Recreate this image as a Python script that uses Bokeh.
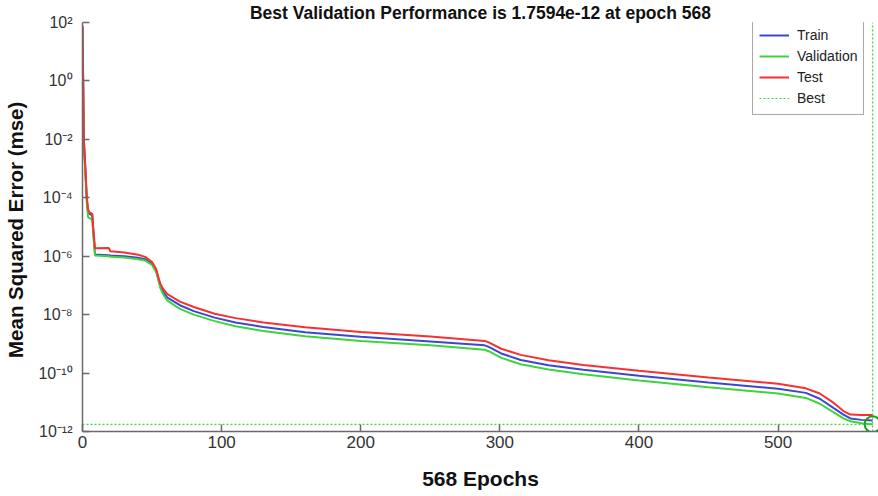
from bokeh.plotting import figure
from bokeh.models import FixedTicker, Legend, LegendItem, CustomJSTickFormatter, Range1d
from bokeh.embed import file_html
from bokeh.resources import INLINE

# ---------------- data ----------------
epochs = [0, 1, 2, 3, 4, 5, 7, 8, 9, 19, 20, 30, 40, 45, 50, 53, 55, 56, 58, 61,
          70, 80, 95, 110, 130, 160, 200, 250, 289, 292, 301, 315, 335, 360, 400,
          450, 500, 520, 530, 540, 547, 552, 560, 568]

train_mse = [7.1e1, 7.9e-3, 1.0e-3, 1.0e-4, 3.16e-5, 2.8e-5, 2.5e-5, 5.0e-6, 1.15e-6,
             1.07e-6, 1.05e-6, 1.0e-6, 8.9e-7, 7.9e-7, 5.4e-7, 3.16e-7, 1.41e-7, 9.5e-8,
             6.0e-8, 3.8e-8, 2.1e-8, 1.32e-8, 7.9e-9, 5.4e-9, 3.8e-9, 2.5e-9, 1.74e-9,
             1.2e-9, 8.9e-10, 7.9e-10, 4.7e-10, 2.8e-10, 1.86e-10, 1.29e-10, 8.1e-11,
             4.8e-11, 2.9e-11, 2.1e-11, 1.32e-11, 6.3e-12, 3.8e-12, 2.8e-12, 2.5e-12, 2.4e-12]

validation_mse = [6.3e1, 6.3e-3, 7.9e-4, 7.9e-5, 2.2e-5, 2.0e-5, 1.78e-5, 4.0e-6, 1.05e-6,
                  1.0e-6, 9.5e-7, 9.1e-7, 7.9e-7, 7.1e-7, 5.0e-7, 2.8e-7, 1.26e-7, 7.9e-8,
                  5.0e-8, 3.0e-8, 1.58e-8, 1.0e-8, 6.0e-9, 4.0e-9, 2.75e-9, 1.82e-9, 1.26e-9,
                  8.9e-10, 6.3e-10, 5.6e-10, 3.3e-10, 2.0e-10, 1.32e-10, 9.1e-11, 5.6e-11,
                  3.3e-11, 2.0e-11, 1.41e-11, 8.9e-12, 4.5e-12, 2.8e-12, 2.24e-12, 1.9e-12, 1.7594e-12]

test_mse = [7.9e1, 1.0e-2, 1.26e-3, 1.26e-4, 3.98e-5, 3.16e-5, 2.82e-5, 6.3e-6, 1.86e-6,
            1.9e-6, 1.48e-6, 1.35e-6, 1.12e-6, 9.5e-7, 6.3e-7, 3.55e-7, 1.58e-7, 1.12e-7,
            7.6e-8, 5.0e-8, 2.8e-8, 1.82e-8, 1.07e-8, 7.6e-9, 5.4e-9, 3.7e-9, 2.57e-9,
            1.78e-9, 1.26e-9, 1.12e-9, 6.8e-10, 4.2e-10, 2.75e-10, 1.9e-10, 1.2e-10,
            7.1e-11, 4.3e-11, 3.0e-11, 2.0e-11, 9.5e-12, 5.0e-12, 3.8e-12, 3.7e-12, 3.7e-12]

best_epoch = 568
best_perf = 1.7594e-12

y_min, y_max = 1e-12, 1e2
x_tick_values = [0, 100, 200, 300, 400, 500]
y_tick_values = [1e2, 1e0, 1e-2, 1e-4, 1e-6, 1e-8, 1e-10, 1e-12]
y_tick_labels = ["10\u00b2", "10\u2070", "10\u207b\u00b2", "10\u207b\u2074", "10\u207b\u2076",
                 "10\u207b\u2078", "10\u207b\u00b9\u2070", "10\u207b\u00b9\u00b2"]

title_text = "Best Validation Performance is 1.7594e-12 at epoch 568"
x_label_text = "568 Epochs"
y_label_text = "Mean Squared Error  (mse)"
series_labels = ["Train", "Validation", "Test", "Best"]

# ---------------- styling ----------------
FONT = "Liberation Sans"
BLUE = "#3a48d0"
GREEN = "#3ed43e"
RED = "#f83030"
AXIS = "#6a6a6a"

p = figure(width=878, height=496, y_axis_type="log",
           x_range=Range1d(0, 572.2), y_range=Range1d(y_min, y_max),
           output_backend="svg", toolbar_location=None, title=title_text,
           min_border_left=82, min_border_right=0, min_border_top=19, min_border_bottom=65)
p.outline_line_color = None
p.xgrid.visible = False
p.ygrid.visible = False

p.title.align = "center"
p.title.text_font = FONT
p.title.text_font_size = "17.5px"
p.title.text_font_style = "bold"
p.title.text_color = "#111111"
p.title.standoff = 0

for ax in (p.xaxis[0], p.yaxis[0]):
    ax.axis_line_color = AXIS
    ax.axis_line_width = 1.5
    ax.major_tick_line_color = AXIS
    ax.major_tick_line_width = 1.5
    ax.major_tick_in = 7
    ax.major_tick_out = 0
    ax.minor_tick_line_color = None
    ax.axis_label_text_font = FONT
    ax.axis_label_text_font_style = "bold"
    ax.axis_label_text_color = "#111111"

p.xaxis.ticker = FixedTicker(ticks=x_tick_values)
p.xaxis.major_label_text_font = FONT
p.xaxis.major_label_text_font_size = "17px"
p.xaxis.major_label_text_color = "#333333"
p.xaxis.major_label_standoff = 4
p.xaxis.axis_label = x_label_text
p.xaxis.axis_label_text_font_size = "21px"
p.xaxis.axis_label_standoff = 16

p.yaxis.ticker = FixedTicker(ticks=y_tick_values)
p.yaxis.formatter = CustomJSTickFormatter(
    args=dict(vals=y_tick_values, labs=y_tick_labels),
    code="""
    for (let i = 0; i < vals.length; i++) {
        if (Math.abs(Math.log10(tick) - Math.log10(vals[i])) < 1e-6) return labs[i];
    }
    return '';
    """)
p.yaxis.major_label_text_font = FONT
p.yaxis.major_label_text_font_size = "16px"
p.yaxis.major_label_text_color = "#333333"
p.yaxis.major_label_standoff = 10
p.yaxis.axis_label = y_label_text
p.yaxis.axis_label_text_font_size = "20.5px"
p.yaxis.axis_label_standoff = 8

# curves
r_train = p.line(epochs, train_mse, line_color=BLUE, line_width=2)
r_val = p.line(epochs, validation_mse, line_color=GREEN, line_width=2)
r_test = p.line(epochs, test_mse, line_color=RED, line_width=2)

# best markers
r_best = p.line([0, best_epoch], [best_perf, best_perf], line_color=GREEN,
                line_width=1.2, line_dash="2 2")
p.line([best_epoch, best_epoch], [y_min, y_max], line_color=GREEN,
       line_width=1.2, line_dash="2 2")
p.scatter([best_epoch], [best_perf], marker="circle", size=16, fill_color=None,
          line_color="#1f9e1f", line_width=2)

legend = Legend(items=[LegendItem(label=series_labels[0], renderers=[r_train]),
                       LegendItem(label=series_labels[1], renderers=[r_val]),
                       LegendItem(label=series_labels[2], renderers=[r_test]),
                       LegendItem(label=series_labels[3], renderers=[r_best])],
                location=(670, 316))
legend.label_text_font = FONT
legend.label_text_font_size = "14px"
legend.label_text_color = "#222222"
legend.glyph_width = 30
legend.glyph_height = 20
legend.label_height = 20
legend.label_standoff = 8
legend.padding = 6
legend.spacing = 1
legend.border_line_color = "#555555"
legend.border_line_width = 1
legend.background_fill_alpha = 1
p.add_layout(legend)

open("out.html", "w").write(file_html(p, INLINE))
